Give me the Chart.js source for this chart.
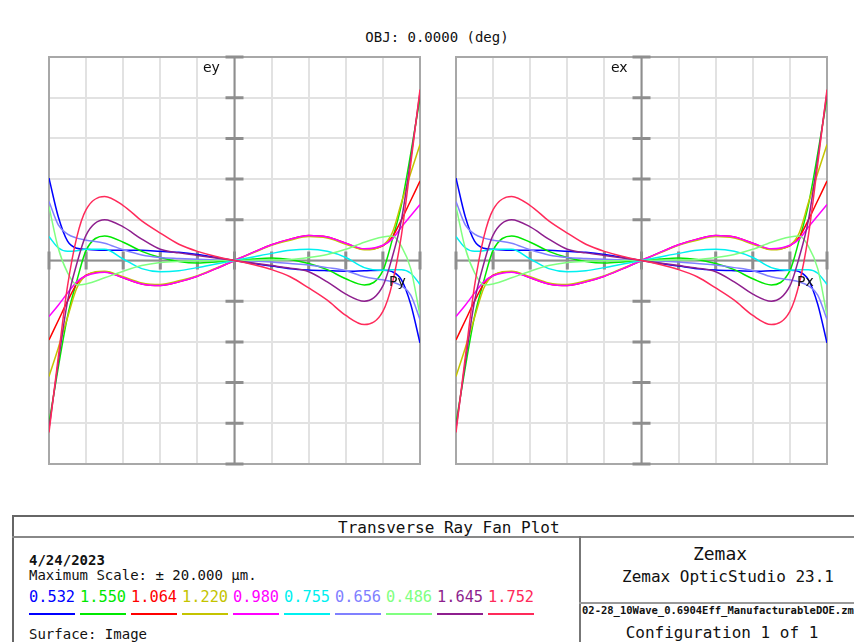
<!DOCTYPE html>
<html>
<head>
<meta charset="utf-8">
<script src="https://cdn.jsdelivr.net/npm/chart.js@4"></script>
<style>
  body { margin: 0; width: 854px; height: 642px; background: #fff; overflow: hidden; position: relative; }
  .t { position: absolute; font-family: "DejaVu Sans Mono", monospace; white-space: nowrap; color: #111; line-height: 1; }
  .lbl { position: absolute; font-family: "DejaVu Sans", sans-serif; font-size: 14px; line-height: 1; color: #111; }
  canvas { position: absolute; }
  .ln { position: absolute; background: #777; }
</style>
</head>
<body>
<div class="t" style="left:337px;width:200px;text-align:center;top:30px;font-size:14px">OBJ: 0.0000 (deg)</div>

<canvas id="fanY" width="391" height="427" style="left:39px;top:47px"></canvas>
<canvas id="fanX" width="391" height="427" style="left:446px;top:47px"></canvas>
<div class="lbl" style="left:203px;top:60px">ey</div>
<div class="lbl" style="left:389px;top:274px">Py</div>
<div class="lbl" style="left:611px;top:60px">ex</div>
<div class="lbl" style="left:797px;top:274px">Px</div>

<!-- Rahmen unten -->
<div class="ln" style="left:12px;top:515px;width:842px;height:2px;background:#666"></div>
<div class="ln" style="left:12px;top:515px;width:2px;height:127px;background:#666"></div>
<div class="ln" style="left:12px;top:536px;width:842px;height:2px;background:#888"></div>
<div class="ln" style="left:579px;top:536px;width:2px;height:106px;background:#777"></div>
<div class="ln" style="left:579px;top:602px;width:275px;height:2px;background:#999"></div>

<div class="t" style="left:338px;width:200px;text-align:center;top:520px;font-size:16px">Transverse Ray Fan Plot</div>
<div class="t" style="left:29px;top:553px;font-size:14px;font-weight:bold">4/24/2023</div>
<div class="t" style="left:29px;top:568px;font-size:14px">Maximum Scale: ± 20.000 µm.</div>
<div id="legend"></div>
<div class="t" style="left:29px;top:627px;font-size:14px">Surface: Image</div>

<div class="t" style="left:620px;width:200px;text-align:center;top:545px;font-size:18px">Zemax</div>
<div class="t" style="left:622px;width:200px;text-align:center;top:569px;font-size:16px">Zemax OpticStudio 23.1</div>
<div class="t" style="left:582px;top:605px;font-size:10.5px;font-weight:bold">02-28_10Wave_0.6904Eff_ManufacturableDOE.zmx</div>
<div class="t" style="left:622px;width:200px;text-align:center;top:625px;font-size:16px">Configuration 1 of 1</div>

<script>
// Pupillenkoordinate (normiert) und Aberration in µm
const PUPIL = [-1, -0.95, -0.9, -0.85, -0.8, -0.7, -0.6, -0.5, -0.4, -0.3, -0.2, -0.1, 0,
               0.1, 0.2, 0.3, 0.4, 0.5, 0.6, 0.7, 0.8, 0.85, 0.9, 0.95, 1];

const WAVES  = ['0.532', '1.550', '1.064', '1.220', '0.980', '0.755', '0.656', '0.486', '1.645', '1.752'];
const COLORS = ['#0000ff', '#00e800', '#ff0000', '#c4c400', '#ff00ff', '#00f0f0', '#8080ff', '#80ff80', '#8e1f8e', '#ff2a5a'];

const FAN_0532 = [8.1, 4.3, 1.9, 1.2, 1.1, 1.0, 1.0, 1.0, 0.9, 0.8, 0.6, 0.3, 0,
                  -0.3, -0.55, -0.8, -0.93, -1.0, -1.05, -1.0, -0.95, -1.1, -1.9, -4.3, -8.1];
const FAN_1550 = [-16.0, -10.5, -5.5, -2.0, 1.0, 2.4, 1.8, 0.9, 0.3, -0.1, -0.25, -0.15, 0,
                  0.15, 0.25, 0.1, -0.3, -0.9, -1.8, -2.4, -1.0, 2.0, 5.5, 10.5, 16.0];
const FAN_1064 = [-7.8, -5.9, -4.0, -2.3, -1.45, -1.1, -1.7, -2.3, -2.45, -2.1, -1.55, -0.8, 0,
                  0.8, 1.55, 2.1, 2.45, 2.3, 1.7, 1.1, 1.45, 2.3, 4.0, 5.9, 7.8];
const FAN_1220 = [-11.4, -8.6, -5.6, -2.7, -1.5, -1.05, -1.6, -2.2, -2.35, -2.0, -1.5, -0.75, 0,
                  0.75, 1.5, 2.0, 2.35, 2.2, 1.6, 1.05, 1.5, 2.7, 5.7, 8.6, 11.4];
const FAN_0980 = [-5.5, -4.4, -3.2, -2.1, -1.5, -1.15, -1.7, -2.3, -2.45, -2.1, -1.55, -0.8, 0,
                  0.8, 1.55, 2.1, 2.45, 2.3, 1.7, 1.15, 1.5, 2.1, 3.3, 4.4, 5.5];
const FAN_0755 = [2.35, 1.25, 0.9, 0.95, 1.1, 1.1, 0.15, -0.8, -1.1, -1.0, -0.7, -0.35, 0,
                  0.35, 0.7, 1.0, 1.1, 0.9, 0.3, -0.7, -0.95, -0.9, -0.9, -1.25, -2.35];
const FAN_0656 = [5.8, 3.5, 2.6, 2.2, 2.0, 1.7, 1.05, 0.55, 0.3, 0.2, 0.12, 0.05, 0,
                  -0.05, -0.15, -0.3, -0.45, -0.7, -1.0, -1.6, -1.9, -2.1, -2.5, -3.4, -5.8];
const FAN_0486 = [5.3, 1.2, -1.2, -2.4, -2.3, -1.7, -1.05, -0.5, -0.2, -0.08, -0.03, -0.01, 0,
                  0.02, 0.05, 0.1, 0.3, 0.6, 1.1, 1.8, 2.3, 2.4, 1.4, -0.8, -5.4];
const FAN_1645 = [-16.5, -10.0, -4.0, -0.3, 2.5, 4.0, 3.3, 2.1, 1.1, 0.75, 0.5, 0.25, 0,
                  -0.25, -0.5, -0.75, -1.1, -2.1, -3.3, -4.0, -2.5, 0.3, 4.0, 10.0, 16.5];
const FAN_1752 = [-16.9, -9.5, -2.5, 2.3, 5.0, 6.3, 5.4, 3.9, 2.7, 1.6, 0.9, 0.4, 0,
                  -0.4, -0.9, -1.6, -2.7, -3.9, -5.4, -6.3, -5.0, -2.3, 2.5, 9.5, 16.8];

const FANS = [FAN_0532, FAN_1550, FAN_1064, FAN_1220, FAN_0980, FAN_0755, FAN_0656, FAN_0486, FAN_1645, FAN_1752];

const MAX_SCALE = 20;   // ± µm
const AXIS_X_STEP = 0.2;
const AXIS_Y_STEP = 4;

// Rahmen, Mittelachsen mit Strichen
const fanAxes = {
  id: 'fanAxes',
  beforeDatasetsDraw(chart) {
    const { ctx, chartArea: a, scales: { x, y } } = chart;
    const cx = x.getPixelForValue(0), cy = y.getPixelForValue(0);
    ctx.save();
    ctx.strokeStyle = '#a8a8a8';
    ctx.lineWidth = 2;
    ctx.strokeRect(a.left, a.top, a.width, a.height);
    ctx.strokeStyle = '#8e8e8e';
    ctx.beginPath();
    ctx.moveTo(a.left, cy); ctx.lineTo(a.right, cy);
    ctx.moveTo(cx, a.top); ctx.lineTo(cx, a.bottom);
    ctx.stroke();
    ctx.lineWidth = 3;
    ctx.beginPath();
    x.ticks.forEach(t => { const p = x.getPixelForValue(t.value); ctx.moveTo(p, cy - 9); ctx.lineTo(p, cy + 9); });
    y.ticks.forEach(t => { const p = y.getPixelForValue(t.value); ctx.moveTo(cx - 9, p); ctx.lineTo(cx + 9, p); });
    ctx.stroke();
    ctx.restore();
  }
};

function makeFan(canvasId) {
  const ctx = document.getElementById(canvasId);
  return new Chart(ctx, {
    type: 'line',
    data: {
      datasets: FANS.map((vals, i) => ({
        label: WAVES[i],
        data: PUPIL.map((p, k) => ({ x: p, y: vals[k] })),
        borderColor: COLORS[i],
        borderWidth: 1.5,
        pointRadius: 0,
        cubicInterpolationMode: 'monotone',
        fill: false,
        order: FANS.length - i,
      })),
    },
    options: {
      responsive: false,
      animation: false,
      devicePixelRatio: 1,
      layout: { padding: 10 },
      plugins: { legend: { display: false }, tooltip: { enabled: false } },
      scales: {
        x: {
          type: 'linear', min: -1, max: 1,
          ticks: { stepSize: AXIS_X_STEP, display: false },
          grid: { color: '#e2e2e2', lineWidth: 2, drawTicks: false },
          border: { display: false },
          afterFit: s => { s.height = 0; },
        },
        y: {
          type: 'linear', min: -MAX_SCALE, max: MAX_SCALE,
          ticks: { stepSize: AXIS_Y_STEP, display: false },
          grid: { color: '#e2e2e2', lineWidth: 2, drawTicks: false },
          border: { display: false },
          afterFit: s => { s.width = 0; },
        },
      },
    },
    plugins: [fanAxes],
  });
}

// auf der Achse (0 deg) sind ey- und ex-Fächer gleich
makeFan('fanY');
makeFan('fanX');

// Wellenlängen-Legende
const legend = document.getElementById('legend');
WAVES.forEach((w, i) => {
  const left = 29 + i * 51;
  const t = document.createElement('div');
  t.className = 't';
  t.style.cssText = `left:${left}px;top:590px;font-size:15.3px;color:${COLORS[i]}`;
  t.textContent = w;
  legend.appendChild(t);
  const u = document.createElement('div');
  u.className = 'ln';
  u.style.cssText = `left:${left}px;top:613px;width:46px;height:2px;background:${COLORS[i]}`;
  legend.appendChild(u);
});
</script>
</body>
</html>
